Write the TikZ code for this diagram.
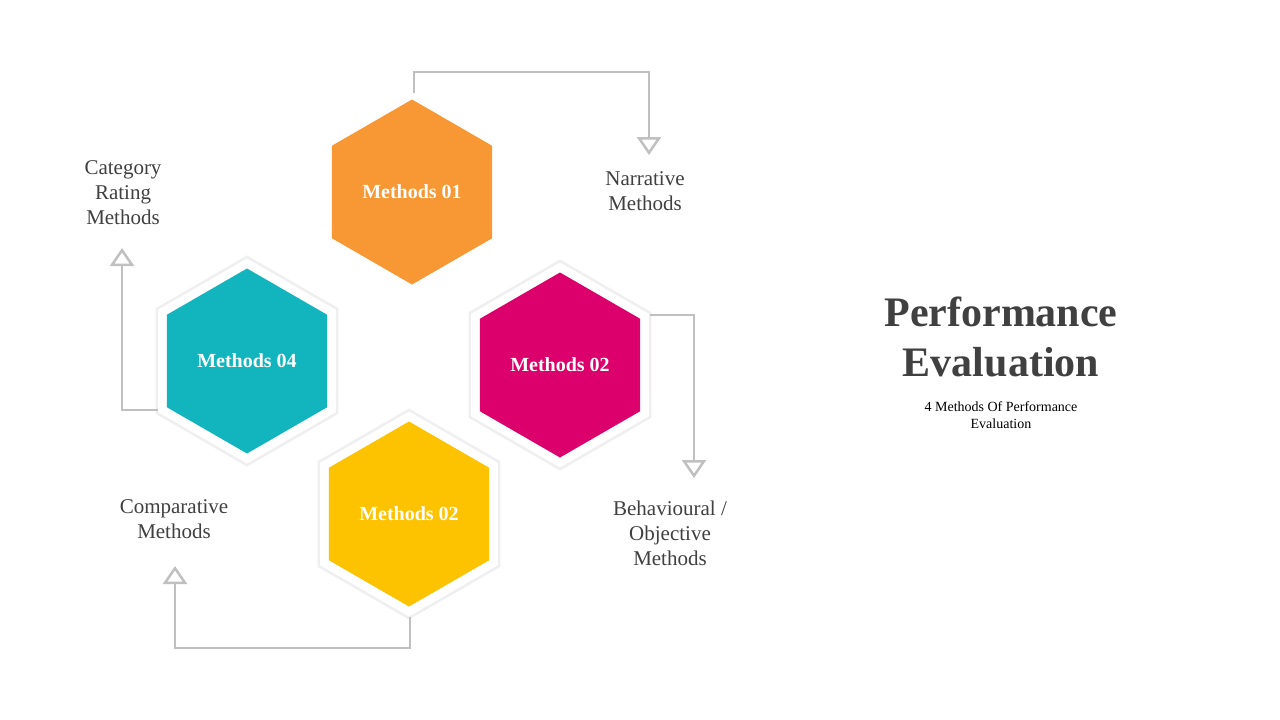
\documentclass[tikz,border=0pt]{standalone}
\usepackage{fontspec}
\setmainfont{Liberation Serif}
\usetikzlibrary{shapes.geometric,arrows.meta,shadows}
\definecolor{corange}{HTML}{F79834}
\definecolor{cmag}{HTML}{DC006C}
\definecolor{cteal}{HTML}{12B5BD}
\definecolor{cyel}{HTML}{FEC300}
\definecolor{cline}{HTML}{C0C0C0}
\definecolor{ctext}{HTML}{404040}
\tikzset{
 hex/.style={regular polygon,regular polygon sides=6,shape border rotate=30,minimum size=185pt,inner sep=0pt,text=white,font=\fontsize{20}{22}\selectfont\bfseries},
 halo/.style={regular polygon,regular polygon sides=6,shape border rotate=30,minimum size=205pt,inner sep=0pt,fill=white,drop shadow={opacity=0.12,shadow xshift=0pt,shadow yshift=0pt,shadow scale=1.03}},
 conn/.style={cline,line width=2.5pt,-{Triangle[open,length=18pt,width=24pt,line width=2.5pt]}},
 lbl/.style={text=ctext,align=center,font=\fontsize{21}{25}\selectfont}
}
\begin{document}
\begin{tikzpicture}[x=1pt,y=-1pt]
\useasboundingbox[fill=white] (0,0) rectangle (1280,720);
\node[halo] at (560,365) {};
\node[halo] at (247,361) {};
\node[halo] at (409,514) {};
\node[hex,fill=corange] (m1) at (412,192) {Methods 01};
\node[hex,fill=cmag] (m2) at (560,365) {Methods 02};
\node[hex,fill=cteal] (m4) at (247,361) {Methods 04};
\node[hex,fill=cyel] (m3) at (409,514) {Methods 02};
\coordinate (a1) at (414,93); \coordinate (t1) at (649,155);
\coordinate (a2) at (650,315); \coordinate (t2) at (694,478);
\coordinate (a4) at (158,410); \coordinate (t4) at (122,248);
\coordinate (a3) at (410,617); \coordinate (t3) at (175,566);
\draw[conn] (a1) -- (414,72) -| (t1);
\draw[conn] (a2) -- (694,315) -- (t2);
\draw[conn] (a4) -- (122,410) -- (t4);
\draw[conn] (a3) -- (410,648) -| (t3);
\node[lbl] (l1) at (645,191) {Narrative\\Methods};
\node[lbl] (l2) at (670,533) {Behavioural /\\Objective\\Methods};
\node[lbl] (l4) at (123,193) {Category\\Rating\\Methods};
\node[lbl] (l3) at (174,519) {Comparative\\Methods};
\node[text=ctext,align=center,font=\fontsize{42}{50}\selectfont\bfseries] (title) at (1001,337) {Performance\\Evaluation};
\node[text=black,align=center,font=\fontsize{14}{17}\selectfont] (sub) at (1001,415) {4 Methods Of Performance\\Evaluation};
\end{tikzpicture}
\end{document}
